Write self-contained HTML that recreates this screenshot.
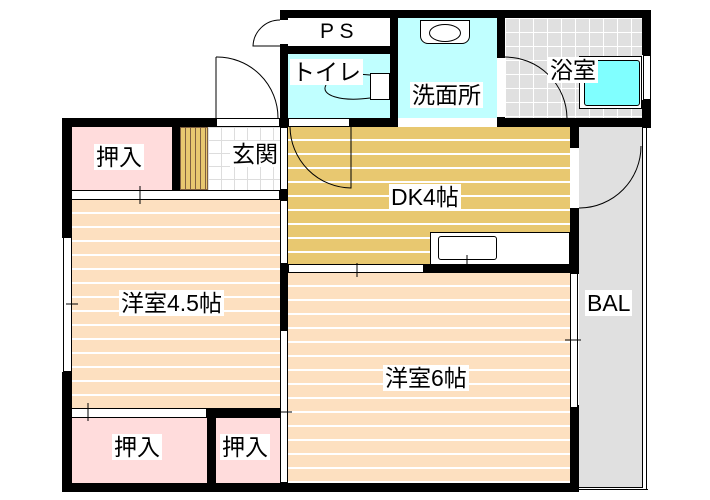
<!DOCTYPE html>
<html><head><meta charset="utf-8"><style>
body{margin:0;width:710px;height:500px;background:#fff;position:relative;overflow:hidden;font-family:"Liberation Sans","Noto Sans CJK JP",sans-serif}
div{position:absolute;box-sizing:border-box}
.b{background:#000}
.lbl{background:#fff;font-size:23px;line-height:26px;padding:0 2px;color:#000;white-space:nowrap}
.wood{background:repeating-linear-gradient(180deg,#e8c870 0,#e8c870 12px,#fff 12px,#fff 14px)}
.flr{background:repeating-linear-gradient(180deg,#fde0c0 0,#fde0c0 12px,#fff 12px,#fff 14px)}
.tile{background-color:#fff;background-image:linear-gradient(#ddd 1px,transparent 1px),linear-gradient(90deg,#ddd 1px,transparent 1px);background-size:13px 13px}
.gtile{background-color:#e0e0e0;background-image:linear-gradient(#fff 1px,transparent 1px),linear-gradient(90deg,#fff 1px,transparent 1px);background-size:14px 14px}
.win{background:#fff;border:1px solid #000}
</style></head><body>
<div style="left:579px;top:127px;width:64px;height:361px;background:#e0e0e0;border-right:1px solid #000;border-bottom:1px solid #000"></div>
<div style="left:646px;top:127px;width:2px;height:363px;border-left:1px solid #000"></div>
<div style="left:579px;top:489px;width:69px;height:1px;background:#000"></div>
<div class="wood" style="left:288px;top:127px;width:282px;height:138px"></div>
<div class="flr" style="left:288px;top:273px;width:282px;height:210px"></div>
<div class="flr" style="left:71px;top:200px;width:209px;height:208px"></div>
<div style="left:71px;top:127px;width:101px;height:63px;background:#ffdcdc"></div>
<div style="left:71px;top:418px;width:136px;height:65px;background:#ffdcdc"></div>
<div style="left:216px;top:418px;width:64px;height:65px;background:#ffdcdc"></div>
<div class="tile" style="left:208px;top:127px;width:72px;height:65px"></div>
<div style="left:180px;top:127px;width:28px;height:63px;background:repeating-linear-gradient(90deg,#e8c870 0,#e8c870 4px,#806040 4px,#806040 5px);border:1px solid #806040"></div>
<div style="left:288px;top:54px;width:102px;height:64px;background:#c0ffff"></div>
<div style="left:398px;top:18px;width:99px;height:100px;background:#c0ffff"></div>
<div class="gtile" style="left:505px;top:18px;width:137px;height:100px"></div>
<div class="b" style="left:280px;top:10px;width:371px;height:8px"></div>
<div class="b" style="left:280px;top:10px;width:8px;height:10px"></div>
<div class="b" style="left:280px;top:44px;width:8px;height:84px"></div>
<div class="b" style="left:280px;top:46px;width:118px;height:8px"></div>
<div class="b" style="left:390px;top:18px;width:8px;height:109px"></div>
<div class="b" style="left:497px;top:18px;width:8px;height:40px"></div>
<div class="b" style="left:497px;top:117px;width:8px;height:10px"></div>
<div class="b" style="left:642px;top:10px;width:9px;height:45px"></div>
<div class="b" style="left:642px;top:100px;width:9px;height:28px"></div>
<div class="b" style="left:350px;top:118px;width:48px;height:9px"></div>
<div class="b" style="left:497px;top:118px;width:154px;height:9px"></div>
<div class="b" style="left:62px;top:118px;width:154px;height:9px"></div>
<div class="b" style="left:62px;top:118px;width:10px;height:120px"></div>
<div class="b" style="left:62px;top:372px;width:10px;height:120px"></div>
<div class="b" style="left:62px;top:483px;width:517px;height:9px"></div>
<div class="b" style="left:570px;top:118px;width:9px;height:30px"></div>
<div class="b" style="left:570px;top:208px;width:9px;height:66px"></div>
<div class="b" style="left:570px;top:405px;width:9px;height:87px"></div>
<div class="b" style="left:424px;top:264px;width:155px;height:9px"></div>
<div class="b" style="left:172px;top:127px;width:8px;height:65px"></div>
<div class="b" style="left:280px;top:190px;width:8px;height:10px"></div>
<div class="b" style="left:280px;top:264px;width:8px;height:66px"></div>
<div class="b" style="left:207px;top:408px;width:73px;height:10px"></div>
<div class="b" style="left:207px;top:408px;width:9px;height:75px"></div>
<div class="win" style="left:63px;top:237px;width:9px;height:135px"></div>
<div class="win" style="left:570px;top:273px;width:8px;height:135px"></div>
<div class="win" style="left:643px;top:55px;width:8px;height:45px"></div>
<div class="win" style="left:71px;top:190px;width:209px;height:10px"></div>
<div class="win" style="left:71px;top:408px;width:136px;height:10px"></div>
<div class="win" style="left:288px;top:264px;width:136px;height:9px"></div>
<div class="win" style="left:280px;top:330px;width:8px;height:153px"></div>
<div class="win" style="left:280px;top:200px;width:8px;height:64px"></div>
<div class="win" style="left:280px;top:127px;width:8px;height:63px"></div>
<div class="win" style="left:288px;top:118px;width:62px;height:9px"></div>
<div class="win" style="left:216px;top:118px;width:64px;height:9px"></div>
<div style="left:430px;top:232px;width:140px;height:33px;background:#fff;border:1px solid #000"></div>
<div style="left:438px;top:236px;width:59px;height:24px;border:1px solid #000;border-radius:3px"></div>
<div style="left:370px;top:73px;width:20px;height:27px;background:#fff;border:1px solid #000"></div>
<div style="left:420px;top:20px;width:50px;height:24px;background:#fff;border:1px solid #000;border-radius:0 0 8px 8px"></div>
<div style="left:429px;top:24px;width:32px;height:18px;border:1px solid #000;border-radius:50%"></div>
<div style="left:579px;top:56px;width:63px;height:53px;background:#fff;border:1px solid #000"></div>
<div style="left:584px;top:60px;width:56px;height:46px;background:#80ffff;border:1px solid #000;border-radius:3px"></div>
<svg style="position:absolute;left:0;top:0" width="710" height="500">
<g fill="none" stroke="#000" stroke-width="1">
<path d="M280 20 A27 27 0 0 0 253 46 L280 46"/>
<path d="M216 57 L216 118 M216 57 A61 61 0 0 1 278 118"/>
<path d="M290 127 A62 62 0 0 0 351 188 L351 127"/>
<path d="M505 57 A62 62 0 0 1 567 118"/>
<path d="M579 208 L580 208 A62 62 0 0 0 641 146"/>
<path d="M345 73 L370 75 M370 98 C340 102 320 95 326 85"/>
<path d="M357 263 v14 M140 186 v18 M88 403 v18 M467 255 v9 M66 304 h12 M565 340 h16 M278 412 h14"/>
</g></svg>
<div class="lbl" style="left:318px;top:19px;font-size:21px">P S</div>
<div class="lbl" style="left:290px;top:59px">トイレ</div>
<div class="lbl" style="left:410px;top:82px">洗面所</div>
<div class="lbl" style="left:548px;top:57px">浴室</div>
<div class="lbl" style="left:230px;top:141px">玄関</div>
<div class="lbl" style="left:94px;top:144px">押入</div>
<div class="lbl" style="left:389px;top:184px">DK4帖</div>
<div class="lbl" style="left:119px;top:290px">洋室4.5帖</div>
<div class="lbl" style="left:585px;top:290px">BAL</div>
<div class="lbl" style="left:383px;top:365px">洋室6帖</div>
<div class="lbl" style="left:112px;top:434px">押入</div>
<div class="lbl" style="left:220px;top:434px">押入</div>
</body></html>
